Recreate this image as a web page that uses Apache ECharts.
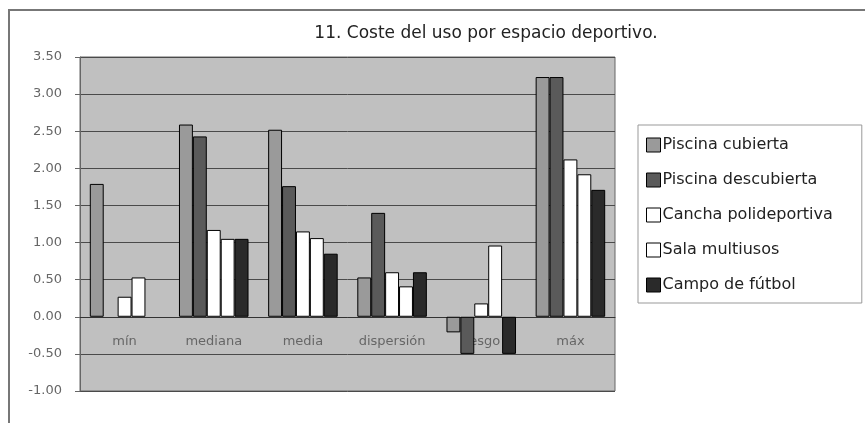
<!DOCTYPE html>
<html>
<head>
<meta charset="utf-8">
<script src="https://cdn.jsdelivr.net/npm/echarts@6/dist/echarts.min.js"></script>
<style>
  html, body { margin: 0; padding: 0; background: #fff; }
  #chart { width: 865px; height: 423px; }
</style>
</head>
<body>
<div id="chart"></div>
<script>
// categorías del eje X
const categorias = ['mín', 'mediana', 'media', 'dispersión', 'sesgo', 'máx'];
// valores por espacio deportivo (null = sin barra)
const piscinaCubierta = [1.79, 2.59, 2.52, 0.53, -0.21, 3.23];
const piscinaDescubierta = [null, 2.43, 1.76, 1.40, -0.50, 3.23];
const canchaPolideportiva = [0.27, 1.17, 1.15, 0.60, 0.18, 2.12];
const salaMultiusos = [0.53, 1.05, 1.06, 0.41, 0.96, 1.92];
const campoFutbol = [null, 1.05, 0.85, 0.60, -0.50, 1.71];

const nombres = ['Piscina cubierta', 'Piscina descubierta', 'Cancha polideportiva', 'Sala multiusos', 'Campo de fútbol'];
const valores = [piscinaCubierta, piscinaDescubierta, canchaPolideportiva, salaMultiusos, campoFutbol];
const colores = ['#9a9a9a', '#5a5a5a', '#ffffff', '#ffffff', '#2a2a2a'];

const FUENTE = '"DejaVu Sans", Verdana, sans-serif';
const H = 423, GRID_BOTTOM = 32;

const chart = echarts.init(document.getElementById('chart'));

const series = nombres.map((n, i) => ({
  name: n,
  type: 'bar',
  data: valores[i],
  barGap: '0%',
  barCategoryGap: '22%',
  itemStyle: { color: colores[i], borderColor: '#000', borderWidth: 1 },
  emphasis: { disabled: true }
}));

chart.setOption({
  animation: false,
  textStyle: { fontFamily: FUENTE },
  title: {
    text: '11. Coste del uso por espacio deportivo.',
    left: 481,
    textAlign: 'center',
    top: 20,
    textStyle: { fontSize: 17, fontWeight: 'normal', color: '#222', fontFamily: FUENTE }
  },
  graphic: [
    {
      type: 'rect',
      shape: { x: 9, y: 10, width: 870, height: 420 },
      style: { fill: 'none', stroke: '#777', lineWidth: 2 },
      silent: true
    }
  ],
  legend: {
    orient: 'vertical',
    left: 638,
    top: 125,
    padding: [12, 29, 10, 8],
    backgroundColor: '#fff',
    borderColor: '#999',
    borderWidth: 1,
    itemWidth: 14,
    itemHeight: 14,
    itemGap: 19,
    icon: 'rect',
    itemStyle: { borderColor: '#000', borderWidth: 1 },
    textStyle: { fontSize: 16, color: '#222', fontFamily: FUENTE, padding: [0, 0, 0, -3] },
    data: nombres
  },
  grid: {
    left: 80,
    right: 250,
    top: 57,
    bottom: GRID_BOTTOM,
    show: true,
    backgroundColor: '#c0c0c0',
    borderColor: '#666',
    borderWidth: 1
  },
  xAxis: {
    type: 'category',
    data: categorias,
    axisLine: { onZero: false, lineStyle: { color: '#333' } },
    axisTick: { show: false },
    axisLabel: { margin: 18, fontSize: 13, color: '#666', fontFamily: FUENTE },
    splitLine: { show: false }
  },
  yAxis: {
    type: 'value',
    min: -1,
    max: 3.5,
    interval: 0.5,
    axisLine: { show: true, lineStyle: { color: '#666' } },
    axisTick: { show: true, inside: false, length: 5, lineStyle: { color: '#666' } },
    axisLabel: {
      margin: 18,
      fontSize: 13,
      color: '#666',
      fontFamily: FUENTE,
      formatter: v => v.toFixed(2)
    },
    splitLine: { lineStyle: { color: '#4a4a4a', width: 1 } }
  },
  series: series
});

// coloca el eje de categorías sobre el cero, a partir de la escala del eje Y
const yCero = chart.convertToPixel({ yAxisIndex: 0 }, 0);
chart.setOption({ xAxis: { offset: yCero - (H - GRID_BOTTOM) } });
</script>
</body>
</html>
